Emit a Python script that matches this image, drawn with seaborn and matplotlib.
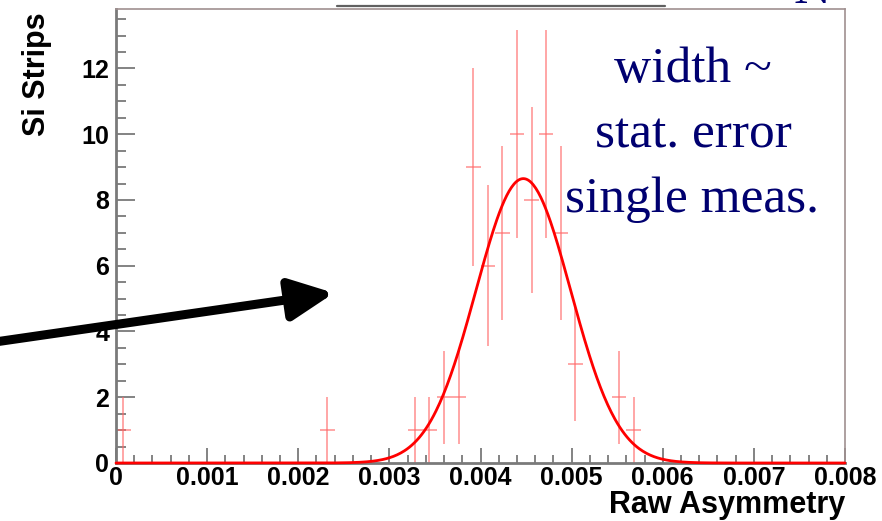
import numpy as np
import pandas as pd
import matplotlib
matplotlib.use("Agg")
import matplotlib.pyplot as plt
import seaborn as sns
from matplotlib.lines import Line2D
from matplotlib.ticker import MultipleLocator, FixedLocator, FixedFormatter

# histogram of raw asymmetry per Si strip (bin centres, bin width 0.00016)
BIN_WIDTH = 0.00016
asym = [0.00008, 0.00232, 0.00328, 0.00344, 0.00360, 0.00376, 0.00392, 0.00408,
        0.00424, 0.00440, 0.00456, 0.00472, 0.00488, 0.00504, 0.00552, 0.00568]
counts = [1, 1, 1, 1, 2, 2, 9, 6, 7, 10, 8, 10, 7, 3, 2, 1]

# gaussian fit
fit_amp = 8.65
fit_mean = 0.00447
fit_sigma = 0.00052

xticks = [0, 0.001, 0.002, 0.003, 0.004, 0.005, 0.006, 0.007, 0.008]
xtick_labels = ["0", "0.001", "0.002", "0.003", "0.004", "0.005", "0.006", "0.007", "0.008"]
yticks = [0, 2, 4, 6, 8, 10, 12]

sns.set_style("ticks")
plt.rcParams["font.family"] = ["Liberation Sans", "DejaVu Sans"]

W, H = 882, 521
fig = plt.figure(figsize=(W / 100, H / 100), dpi=100)
ax = fig.add_axes([116 / W, 1 - 463 / H, (845 - 116) / W, (463 - 9.3) / H])

df = pd.DataFrame({"asym": asym, "counts": counts})
df["err"] = np.sqrt(df["counts"])

ax.errorbar(df["asym"], df["counts"], yerr=df["err"], xerr=BIN_WIDTH / 2,
            fmt="none", ecolor="#ff6a6a", elinewidth=1.4, alpha=0.6, capsize=0,
            zorder=2)

xs = np.linspace(0, 0.008, 600)
fit = pd.DataFrame({"x": xs,
                    "y": fit_amp * np.exp(-0.5 * ((xs - fit_mean) / fit_sigma) ** 2)})
sns.lineplot(data=fit, x="x", y="y", ax=ax, color="red", lw=2.0, zorder=3,
             clip_on=False)

ax.set_xlim(0, 0.008)
ax.set_ylim(0, 13.8)
ax.xaxis.set_major_locator(FixedLocator(xticks))
ax.xaxis.set_major_formatter(FixedFormatter(xtick_labels))
ax.xaxis.set_minor_locator(MultipleLocator(0.0002))
ax.yaxis.set_major_locator(FixedLocator(yticks))
ax.yaxis.set_minor_locator(MultipleLocator(0.5))

ax.tick_params(which="both", direction="in", color="#7a7a7a", width=1.3,
               labelcolor="black")
ax.tick_params(axis="x", which="major", length=11, pad=2, labelsize=18)
ax.tick_params(axis="x", which="minor", length=5.5)
ax.tick_params(axis="y", which="major", length=14, pad=5, labelsize=18)
ax.tick_params(axis="y", which="minor", length=7)
for lab in ax.get_xticklabels() + ax.get_yticklabels():
    lab.set_fontweight("bold")

for side in ["left", "bottom"]:
    ax.spines[side].set_color("#7a7a7a")
    ax.spines[side].set_linewidth(2.0)
for side in ["top", "right"]:
    ax.spines[side].set_color("#a09090")
    ax.spines[side].set_linewidth(1.2)

ax.set_xlabel("Raw Asymmetry", loc="right", fontsize=22, fontweight="bold",
              color="black")
ax.xaxis.set_label_coords(1.0, -27 / 453.7)
ax.set_ylabel("Si Strips", loc="top", fontsize=22, fontweight="bold",
              color="black")
ax.yaxis.set_label_coords(-64 / 729, 1 - 3 / 453.7)

# annotation text on the slide
serif = ["Liberation Serif", "DejaVu Serif"]
navy = "#000070"
ax.text(693 / W, 1 - 82 / H, "width ~", transform=fig.transFigure, ha="center",
        va="baseline", fontsize=37, family=serif, color=navy)
ax.text(693 / W, 1 - 147 / H, "stat. error", transform=fig.transFigure, ha="center",
        va="baseline", fontsize=37, family=serif, color=navy)
ax.text(692 / W, 1 - 212 / H, "single meas.", transform=fig.transFigure, ha="center",
        va="baseline", fontsize=37, family=serif, color=navy)
fig.text(812 / W, 1 - 3 / H, "N", ha="center", va="baseline", fontsize=37,
         family=serif, color=navy)

# line at the top of the slide
fig.add_artist(Line2D([337 / W, 665 / W], [1 - 5.5 / H, 1 - 5.5 / H],
                      color="#606060", lw=1.6))

# black arrow pointing into the plot
ax.annotate("", xy=(334, H - 293), xytext=(-5, H - 342), xycoords="figure pixels",
            textcoords="figure pixels", annotation_clip=False,
            arrowprops=dict(arrowstyle="-|>,head_length=0.8,head_width=0.38",
                            mutation_scale=33, lw=6.5, color="black",
                            shrinkA=0, shrinkB=0))

fig.savefig("out.png", dpi=100)
